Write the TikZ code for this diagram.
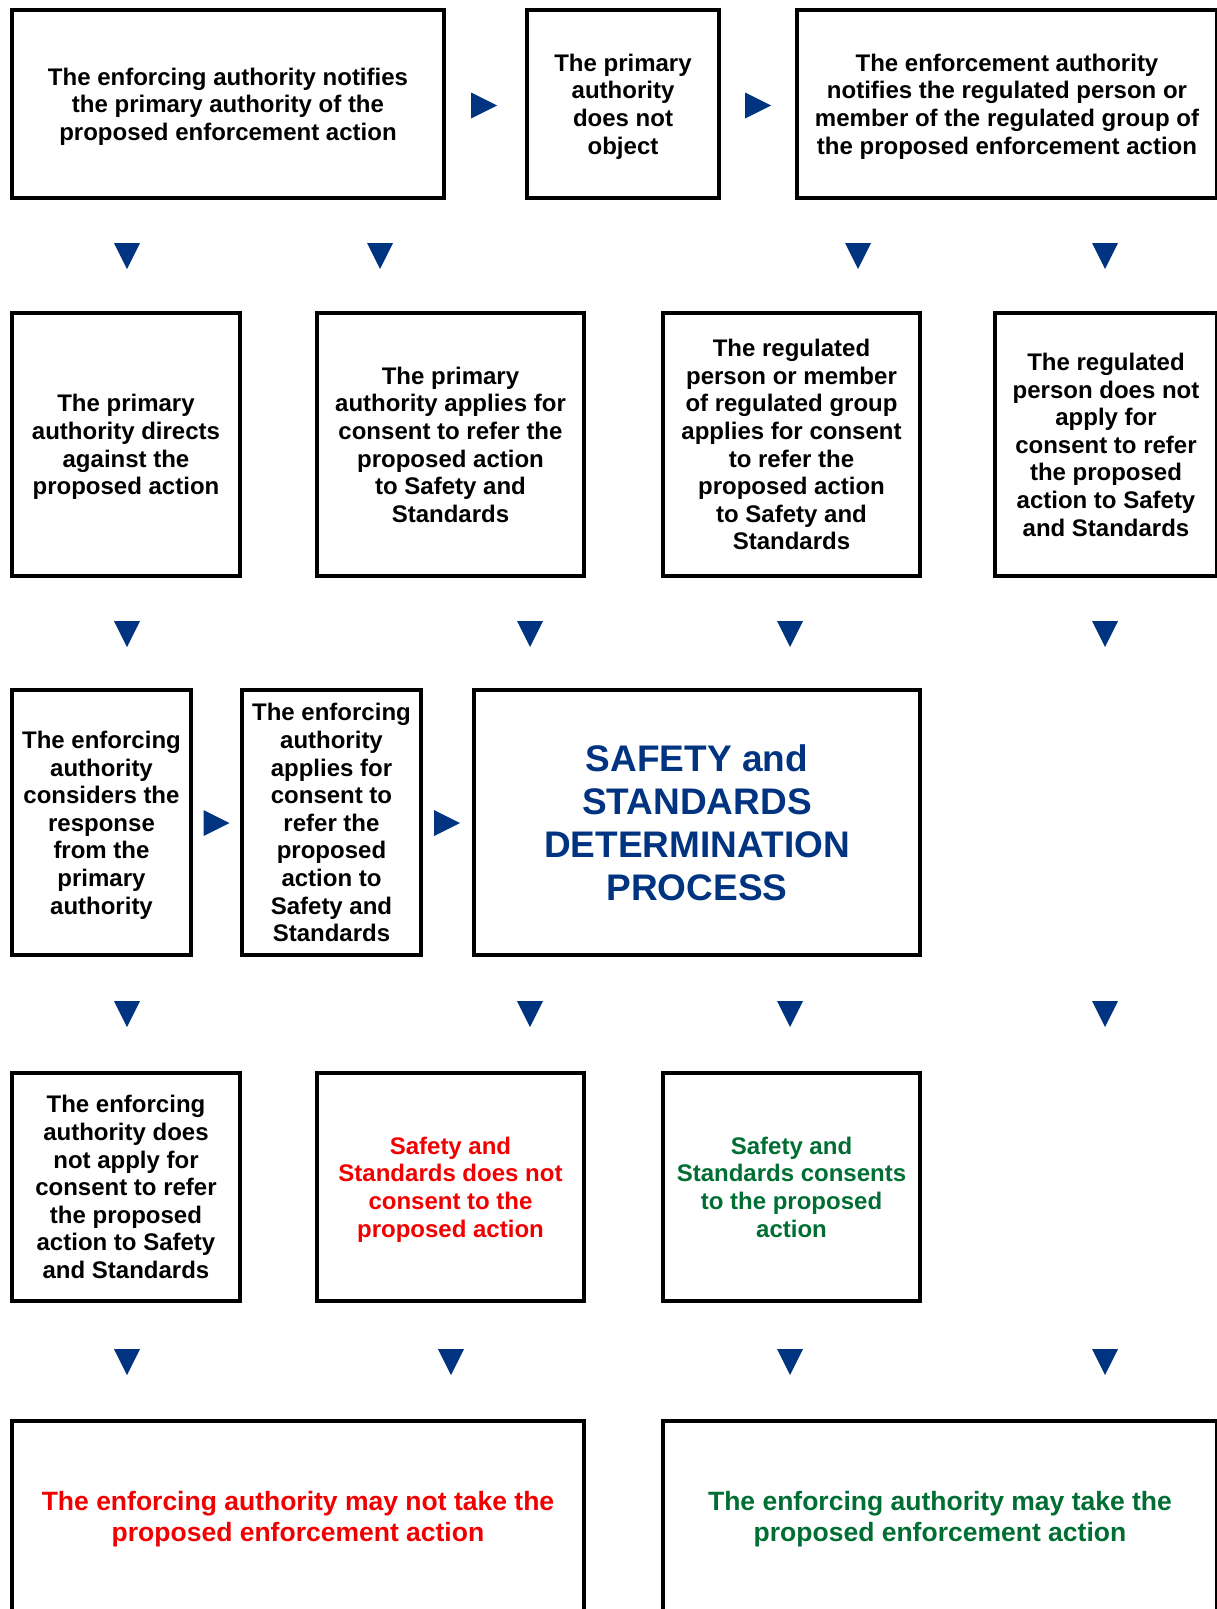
\documentclass[tikz,border=0pt]{standalone}
\usepackage{fontspec}
\setmainfont{Liberation Sans}
\definecolor{navy}{RGB}{0,51,128}
\definecolor{myred}{RGB}{240,0,0}
\definecolor{mygreen}{RGB}{0,110,50}
\tikzset{
  frame/.style={draw, line width=4pt, inner sep=0pt, align=center},
  box/.style={frame, text depth=0pt,
    font=\fontsize{24}{27.6}\selectfont\bfseries},
  title/.style={frame, text=navy, font=\fontsize{37}{43}\selectfont\bfseries},
  outcome/.style={frame, font=\fontsize{26.5}{31}\selectfont\bfseries},
  arr/.style={fill=navy}
}
\newcommand\tridown[2]{\fill[arr] (#1-13,#2-13) -- (#1+13,#2-13) -- (#1,#2+13) -- cycle;}
\newcommand\triright[2]{\fill[arr] (#1-13,#2-13) -- (#1+13,#2) -- (#1-13,#2+13) -- cycle;}
\begin{document}
\begin{tikzpicture}[x=1pt,y=-1pt]
\useasboundingbox (0,0) rectangle (1216,1609);
% row 1
\node[box, minimum width=432pt, minimum height=188pt] (b1) at (228,104)
 {The enforcing authority notifies\\the primary authority of the\\proposed enforcement action};
\node[box, minimum width=192pt, minimum height=188pt] (b2) at (623,104)
 {The primary\\authority\\does not\\object};
\node[box, minimum width=420pt, minimum height=188pt] (b3) at (1007,104)
 {The enforcement authority\\notifies the regulated person or\\member of the regulated group of\\the proposed enforcement action};
\triright{484}{105.5}
\triright{758}{105.5}
% arrows row1->row2
\tridown{127}{256}
\tridown{380}{256}
\tridown{858}{256}
\tridown{1105}{256}
% row 2
\node[box, minimum width=228pt, minimum height=263pt] (ba) at (126,444.5)
 {The primary\\authority directs\\against the\\proposed action};
\node[box, minimum width=267pt, minimum height=263pt] (bb) at (450.5,444.5)
 {The primary\\authority applies for\\consent to refer the\\proposed action\\to Safety and\\Standards};
\node[box, minimum width=257pt, minimum height=263pt] (bc) at (791.5,444.5)
 {The regulated\\person or member\\of regulated group\\applies for consent\\to refer the\\proposed action\\to Safety and\\Standards};
\node[box, minimum width=222pt, minimum height=263pt] (bd) at (1106,444.5)
 {The regulated\\person does not\\apply for\\consent to refer\\the proposed\\action to Safety\\and Standards};
% arrows row2->row3
\tridown{127}{634}
\tridown{530}{634}
\tridown{790}{634}
\tridown{1105}{634}
% row 3
\node[box, minimum width=179pt, minimum height=265pt] (be) at (101.5,822.5)
 {The enforcing\\authority\\considers the\\response\\from the\\primary\\authority};
\node[box, minimum width=179pt, minimum height=265pt] (bf) at (331.5,822.5)
 {The enforcing\\authority\\applies for\\consent to\\refer the\\proposed\\action to\\Safety and\\Standards};
\node[title, minimum width=446pt, minimum height=265pt] (bg) at (697,822.5)
 {SAFETY and\\STANDARDS\\DETERMINATION\\PROCESS};
\triright{216.5}{823}
\triright{447}{823}
% arrows row3->row4
\tridown{127}{1014}
\tridown{530}{1014}
\tridown{790}{1014}
\tridown{1105}{1014}
% row 4
\node[box, minimum width=228pt, minimum height=228pt] (bh) at (126,1187)
 {The enforcing\\authority does\\not apply for\\consent to refer\\the proposed\\action to Safety\\and Standards};
\node[box, text=myred, minimum width=267pt, minimum height=228pt] (bi) at (450.5,1187)
 {Safety and\\Standards does not\\consent to the\\proposed action};
\node[box, text=mygreen, minimum width=257pt, minimum height=228pt] (bj) at (791.5,1187)
 {Safety and\\Standards consents\\to the proposed\\action};
% arrows row4->row5
\tridown{127}{1362}
\tridown{451}{1362}
\tridown{790}{1362}
\tridown{1105}{1362}
% row 5
\node[outcome, text=myred, minimum width=572pt, minimum height=197pt] (bk) at (298,1519.5)
 {The enforcing authority may not take the\\proposed enforcement action};
\node[outcome, text=mygreen, minimum width=554pt, minimum height=197pt] (bl) at (940,1519.5)
 {The enforcing authority may take the\\proposed enforcement action};
\end{tikzpicture}
\end{document}
